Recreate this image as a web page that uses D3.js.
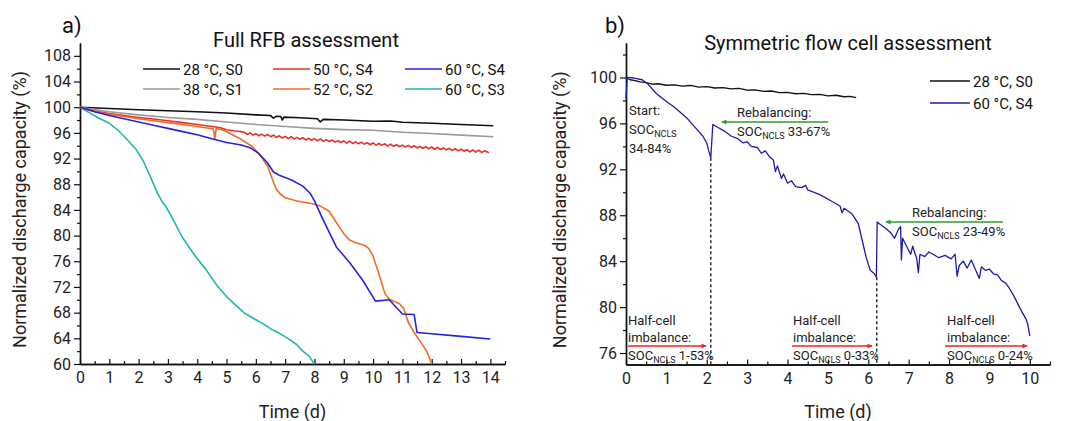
<!DOCTYPE html>
<html>
<head>
<meta charset="utf-8">
<script src="https://cdn.jsdelivr.net/npm/d3@7"></script>
<style>
  body { margin: 0; background: #fff; }
  svg { font-family: Roboto, "Open Sans", sans-serif; }
</style>
</head>
<body>
<div class="chart"></div>
<script>
// ---- panel a) full RFB: [time (d), capacity (%)] ----
const fullS0_28 = [[0,100],[1,99.8],[2,99.6],[3,99.45],[4,99.3],[5,99.1],[6,98.8],[6.5,98.7],[6.6,98.3],[6.7,98.6],[6.85,98.55],[6.9,98.0],[6.95,98.45],[7.5,98.35],[8.1,98.2],[8.2,97.7],[8.3,98.1],[9,98.0],[10,97.8],[10.6,97.85],[11,97.65],[12,97.5],[13,97.3],[14.1,97.1]];
const fullS1_38 = [[0,100],[1,99.3],[2,98.8],[3,98.4],[4,98.1],[5,97.7],[6,97.3],[7,97.0],[8,96.7],[9,96.5],[10,96.4],[11,96.1],[12,95.9],[13,95.65],[14.1,95.4]];
const fullS4_50 = [[0,100],[0.5,99.4],[1,99.0],[1.5,98.7],[2,98.4],[2.5,98.15],[3,97.9],[3.5,97.6],[4,97.3],[4.5,97.0],[4.8,96.8],[5.0,96.5],[5.3,96.3],[5.5,96.2],
  [5.6,96.1],[5.7,95.75],[5.8,96.0],[5.9,95.65],[6.0,95.9],[6.1,95.55],[6.2,95.8],[6.3,95.5],[6.4,95.75],[6.5,95.4],[6.6,95.65],[6.7,95.3],[6.8,95.55],[6.9,95.2],
  [7.0,95.45],[7.1,95.1],[7.2,95.4],[7.3,95.05],[7.4,95.3],[7.5,95.0],[7.6,95.25],[7.7,94.9],[7.8,95.15],[7.9,94.85],[8.0,95.1],[8.1,94.75],[8.2,95.05],[8.3,94.7],
  [8.4,94.95],[8.5,94.65],[8.6,94.9],[8.7,94.55],[8.8,94.8],[8.9,94.5],[9.0,94.75],[9.1,94.4],[9.2,94.7],[9.3,94.35],[9.4,94.6],[9.5,94.3],[9.6,94.55],[9.7,94.25],
  [9.8,94.5],[9.9,94.15],[10.0,94.45],[10.1,94.1],[10.2,94.35],[10.3,94.05],[10.4,94.3],[10.5,93.95],[10.6,94.25],[10.7,93.9],[10.8,94.15],[10.9,93.85],[11.0,94.1],
  [11.1,93.8],[11.2,94.05],[11.3,93.7],[11.4,94.0],[11.5,93.65],[11.6,93.9],[11.7,93.6],[11.8,93.85],[11.9,93.5],[12.0,93.8],[12.1,93.45],[12.2,93.75],[12.3,93.4],
  [12.4,93.65],[12.5,93.35],[12.6,93.6],[12.7,93.25],[12.8,93.55],[12.9,93.2],[13.0,93.45],[13.1,93.15],[13.2,93.4],[13.3,93.05],[13.4,93.35],[13.5,93.0],[13.6,93.3],
  [13.7,92.95],[13.8,93.2],[13.95,92.9]];
const fullS2_52 = [[0,100],[0.5,99.3],[1,98.9],[2,98.2],[3,97.6],[4,97.0],[4.55,96.6],[4.6,95.1],[4.65,96.7],[4.9,96.4],[5.2,95.7],[5.5,95.0],[5.9,93.8],[6.2,92.2],[6.4,90.8],[6.5,89.6],[6.6,88.3],[6.7,87.2],[6.85,86.4],[7.0,85.9],[7.4,85.4],[7.9,85.0],[8.2,84.6],[8.5,83.8],[8.75,82.0],[9.0,80.3],[9.2,79.3],[9.4,78.9],[9.7,78.5],[9.85,78.0],[10.0,76.8],[10.2,74.0],[10.4,71.0],[10.55,70.1],[10.9,69.4],[11.05,68.6],[11.2,66.5],[11.4,64.9],[11.6,63.6],[11.8,62.2],[11.9,61.2],[12.0,60.0]];
const fullS4_60 = [[0,100],[0.5,99.3],[1,98.7],[1.5,98.2],[2,97.7],[2.5,97.2],[3,96.7],[3.5,96.2],[4,95.7],[4.5,95.1],[5,94.5],[5.5,94.1],[5.8,93.7],[6.1,92.8],[6.4,91.3],[6.6,89.9],[6.8,89.4],[7.2,88.7],[7.6,87.7],[7.85,86.6],[8.0,85.4],[8.3,82.4],[8.75,78.2],[9.2,75.8],[9.65,73.0],[10.08,69.8],[10.55,70.0],[11.0,67.8],[11.4,67.7],[11.5,64.9],[12,64.7],[13,64.3],[14.0,63.9]];
const fullS3_60 = [[0,100],[0.3,99.2],[0.6,98.4],[1.0,97.5],[1.3,96.4],[1.6,95.0],[1.9,93.5],[2.15,91.7],[2.4,89.2],[2.6,87.0],[2.8,85.3],[2.96,84.3],[3.2,82.3],[3.47,79.9],[3.75,78.0],[4.0,76.4],[4.3,74.7],[4.66,72.3],[5.0,70.5],[5.3,69.2],[5.62,67.9],[6.0,66.9],[6.2,66.4],[6.5,65.5],[6.8,64.8],[7.15,63.8],[7.4,63.0],[7.6,62.0],[7.8,61.3],[8.0,60.0]];

const fullNames = ["28 °C, S0", "38 °C, S1", "50 °C, S4", "52 °C, S2", "60 °C, S4", "60 °C, S3"];
const fullColors = ["#111111", "#9a9a9a", "#e8302a", "#f26b22", "#2424e0", "#25b5ad"];
const fullSeries = [fullS0_28, fullS1_38, fullS4_50, fullS2_52, fullS4_60, fullS3_60];

// ---- panel b) symmetric flow cell ----
const symS0_28 = [[0,100],[0.1,99.8],[0.2,99.75],[0.35,99.62],[0.5,99.55],[0.65,99.42],[0.8,99.45],[1.0,99.32],[1.2,99.36],[1.4,99.25],[1.6,99.3],[1.8,99.16],[2.0,99.2],[2.2,99.08],[2.4,99.12],[2.6,99.0],[2.8,99.05],[3.0,98.9],[3.2,98.92],[3.4,98.78],[3.6,98.82],[3.8,98.68],[4.0,98.7],[4.2,98.58],[4.4,98.62],[4.6,98.5],[4.8,98.52],[5.0,98.4],[5.2,98.45],[5.4,98.32],[5.55,98.36],[5.7,98.25]];
const symS4_60 = [[0,98.2],[0.03,100],[0.2,99.95],[0.4,99.8],[0.55,99.4],[0.75,98.6],[1.0,97.9],[1.2,97.4],[1.5,96.5],[1.75,95.5],[1.9,94.9],[2.0,94.3],[2.05,93.6],[2.1,93.0],[2.15,95.9],[2.3,95.6],[2.45,95.3],[2.6,94.9],[2.75,94.7],[2.9,94.3],[3.0,94.4],[3.1,94.0],[3.25,93.9],[3.35,93.4],[3.45,93.6],[3.55,93.1],[3.65,92.8],[3.7,91.8],[3.75,92.3],[3.85,91.2],[3.9,91.6],[4.0,90.8],[4.1,91.0],[4.2,90.5],[4.35,90.4],[4.45,90.6],[4.5,90.2],[4.8,89.8],[5.05,89.3],[5.3,88.8],[5.35,88.2],[5.4,88.6],[5.6,88.1],[5.75,87.3],[5.85,85.8],[5.95,84.3],[6.05,83.2],[6.15,82.9],[6.2,82.6],[6.22,87.4],[6.3,87.2],[6.45,86.8],[6.55,86.5],[6.65,86.0],[6.75,86.8],[6.8,87.0],[6.82,84.1],[6.85,86.0],[6.95,85.3],[7.05,84.6],[7.1,85.3],[7.2,84.2],[7.24,83.0],[7.28,84.6],[7.4,84.4],[7.5,84.8],[7.6,84.6],[7.75,84.3],[7.9,84.5],[8.05,84.2],[8.15,84.6],[8.2,82.7],[8.25,83.6],[8.35,84.0],[8.45,83.4],[8.55,84.1],[8.65,83.3],[8.75,82.5],[8.8,83.5],[8.9,83.2],[9.0,83.3],[9.1,82.9],[9.2,82.8],[9.3,82.3],[9.4,82.1],[9.5,81.6],[9.6,81.0],[9.7,80.3],[9.8,79.6],[9.9,79.0],[9.95,78.5],[10.0,77.5]];

const symNames = ["28 °C, S0", "60 °C, S4"];
const symColors = ["#111111", "#1c1ca8"];
const symSeries = [symS0_28, symS4_60];

const rebalRanges = ["33-67%", "23-49%"];
const imbalanceRanges = ["1-53%", "0-33%", "0-24%"];
const switchTimes = [2.1, 6.21];
const switchMins = [93.0, 82.6];

const fullXMajor = d3.range(0, 15, 1);
const fullXMinor = d3.range(0.5, 14.6, 1);
const fullYMajor = d3.range(60, 109, 4);
const fullYMinor = d3.range(62, 109, 4);
const symXMajor = d3.range(0, 11, 1);
const symXMinor = d3.range(0.5, 10.6, 1);
const symYMajor = d3.range(76, 101, 4);
const symYMinor = d3.range(78, 103, 4);

const svg = d3.select(".chart")
  .append("svg")
    .attr("width", 1067)
    .attr("height", 421);

const defs = svg.append("defs");
[["red", "#ee2222"], ["green", "#2f9a2f"]].forEach(([id, c]) => {
  defs.append("marker")
      .attr("id", "head-" + id)
      .attr("viewBox", "0 0 10 10")
      .attr("refX", 9).attr("refY", 5)
      .attr("markerWidth", 7).attr("markerHeight", 5)
      .attr("markerUnits", "userSpaceOnUse")
      .attr("orient", "auto")
    .append("path")
      .attr("d", "M0,0 L10,5 L0,10 Z")
      .attr("fill", c);
});

const drawAxes = (x, y, xMajor, xMinor, yMajor, yMinor, yTitleX) => {
  const [x0, x1] = x.range();
  const [yb, yt] = y.range();

  const g = svg.append("g");
  g.append("g")
    .attr("transform", `translate(0, ${yb})`)
    .call(d3.axisBottom(x).tickValues(xMinor).tickFormat("").tickSizeInner(-3).tickSizeOuter(0));
  g.append("g")
    .attr("transform", `translate(0, ${yb})`)
    .call(d3.axisBottom(x).tickValues(xMajor).tickFormat(d3.format("d")).tickSizeInner(-5).tickSizeOuter(0).tickPadding(8));
  g.append("g")
    .attr("transform", `translate(${x0}, 0)`)
    .call(d3.axisLeft(y).tickValues(yMinor).tickFormat("").tickSizeInner(3).tickSizeOuter(0));
  g.append("g")
    .attr("transform", `translate(${x0}, 0)`)
    .call(d3.axisLeft(y).tickValues(yMajor).tickFormat(d3.format("d")).tickSizeInner(6).tickSizeOuter(0).tickPadding(3));

  g.selectAll(".domain").attr("stroke", "#111").attr("stroke-width", 1.4);
  g.selectAll(".tick line").attr("stroke", "#111").attr("stroke-width", 1.2);
  g.selectAll(".tick text")
    .attr("fill", "#222")
    .style("font-family", "Roboto, sans-serif")
    .style("font-size", "16px");

  svg.append("text")
    .attr("x", (x0 + x1) / 2)
    .attr("y", 418)
    .attr("text-anchor", "middle")
    .attr("fill", "#222")
    .style("font-size", "18px")
    .text("Time (d)");

  svg.append("text")
    .attr("transform", `translate(${yTitleX}, ${(yb + yt) / 2 + 6}) rotate(-90)`)
    .attr("text-anchor", "middle")
    .attr("fill", "#222")
    .style("font-size", "18px")
    .text("Normalized discharge capacity (%)");
};

const drawLines = (x, y, series, colors, width) => {
  const line = d3.line().x(d => x(d[0])).y(d => y(d[1]));
  svg.append("g")
    .selectAll("path")
    .data(series)
    .join("path")
      .attr("d", line)
      .attr("fill", "none")
      .attr("stroke", (d, i) => colors[i])
      .attr("stroke-width", width)
      .attr("stroke-linejoin", "round");
};

// ===== panel a =====
const xA = d3.scaleLinear().domain([0, 14.5]).range([80, 505]);
const yA = d3.scaleLinear().domain([60, 110]).range([364, 43]);
drawAxes(xA, yA, fullXMajor, fullXMinor, fullYMajor, fullYMinor, 26);
// draw order: back ones first
const orderA = [0, 1, 2, 5, 3, 4];
drawLines(xA, yA, orderA.map(i => fullSeries[i]), orderA.map(i => fullColors[i]), 1.6);

svg.append("text").attr("x", 62).attr("y", 33).attr("fill", "#111")
  .style("font-size", "22px").text("a)");
svg.append("text").attr("x", 306).attr("y", 47).attr("text-anchor", "middle").attr("fill", "#111")
  .style("font-size", "20px").text("Full RFB assessment");

const legA = svg.append("g")
  .selectAll("g")
  .data(fullNames)
  .join("g")
    .attr("transform", (d, i) => `translate(${[143, 273, 405][Math.floor(i / 2)]}, ${[69, 89][i % 2]})`);
legA.append("line")
  .attr("x1", 0).attr("x2", 37).attr("y1", 0).attr("y2", 0)
  .attr("stroke", (d, i) => fullColors[i])
  .attr("stroke-width", 1.6);
legA.append("text")
  .text(d => d)
  .attr("x", 40).attr("y", 5.5)
  .attr("fill", "#111")
  .style("font-size", "15px");

// ===== panel b =====
const xB = d3.scaleLinear().domain([0, 10.5]).range([626, 1050]);
const yB = d3.scaleLinear().domain([75, 103]).range([364.5, 43]);
drawAxes(xB, yB, symXMajor, symXMinor, symYMajor, symYMinor, 566);

svg.append("g")
  .selectAll("line")
  .data(switchTimes)
  .join("line")
    .attr("x1", d => xB(d)).attr("x2", d => xB(d))
    .attr("y1", (d, i) => yB(switchMins[i])).attr("y2", yB(75))
    .attr("stroke", "#222")
    .attr("stroke-width", 1.4)
    .attr("stroke-dasharray", "3,2.5");

drawLines(xB, yB, symSeries, symColors, 1.3);

svg.append("text").attr("x", 605).attr("y", 33).attr("fill", "#111")
  .style("font-size", "22px").text("b)");
svg.append("text").attr("x", 848).attr("y", 50).attr("text-anchor", "middle").attr("fill", "#111")
  .style("font-size", "20px").text("Symmetric flow cell assessment");

const legB = svg.append("g")
  .selectAll("g")
  .data(symNames)
  .join("g")
    .attr("transform", (d, i) => `translate(930, ${[81, 103][i]})`);
legB.append("line")
  .attr("x1", 0).attr("x2", 40).attr("y1", 0).attr("y2", 0)
  .attr("stroke", (d, i) => symColors[i])
  .attr("stroke-width", 1.4);
legB.append("text")
  .text(d => d)
  .attr("x", 43).attr("y", 5.5)
  .attr("fill", "#111")
  .style("font-size", "15px");

// annotations
const note = svg.append("g").attr("fill", "#222").style("font-size", "13px");
const socLine = (x, y, range) => {
  const t = note.append("text").attr("x", x).attr("y", y);
  t.append("tspan").text("SOC");
  t.append("tspan").attr("dy", 3).style("font-size", "9px").text("NCLS");
  t.append("tspan").attr("dy", -3).text(" " + range);
};
const arrow = (xs, xe, y, color) => {
  svg.append("line")
    .attr("x1", xs).attr("x2", xe).attr("y1", y).attr("y2", y)
    .attr("stroke", color === "red" ? "#ee2222" : "#2f9a2f")
    .attr("stroke-width", 1.6)
    .attr("marker-end", `url(#head-${color})`);
};

note.append("text").attr("x", 629).attr("y", 115).text("Start:");
socLine(629, 134, "");
note.append("text").attr("x", 629).attr("y", 153).text("34-84%");

[[737, 117, 828, 722], [912, 217, 1003, 886]].forEach(([tx, ty, ax0, ax1], i) => {
  note.append("text").attr("x", tx).attr("y", ty).text("Rebalancing:");
  arrow(ax0, ax1, ty + 5, "green");
  socLine(tx, ty + 19, rebalRanges[i]);
});

[[628, 628, 706], [793, 792, 872], [947, 945, 1027]].forEach(([tx, ax0, ax1], i) => {
  note.append("text").attr("x", tx).attr("y", 325).text("Half-cell");
  note.append("text").attr("x", tx).attr("y", 342).text("imbalance:");
  arrow(ax0, ax1, 346, "red");
  socLine(tx, 360, imbalanceRanges[i]);
});
</script>
</body>
</html>
